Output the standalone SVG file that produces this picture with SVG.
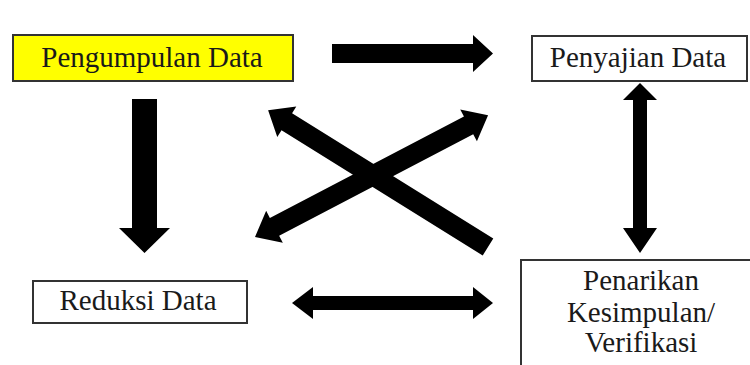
<svg xmlns="http://www.w3.org/2000/svg" width="750" height="365" viewBox="0 0 750 365">
<style>
.box{fill:#ffffff;stroke:#333333;stroke-width:2}
.hl{fill:#ffff00}
.arr{fill:#000000}
</style>
<rect width="750" height="365" fill="#ffffff"/>
<g id="pengumpulan">
<rect class="box hl" x="13" y="35" width="280" height="46"/>
<text x="152" y="67" font-family="'Times New Roman', 'Liberation Serif', serif" font-size="29" fill="#1a1a1a" text-anchor="middle">Pengumpulan Data</text>
</g>
<g id="penyajian">
<rect class="box" x="532" y="36" width="215" height="45"/>
<text x="638" y="67" font-family="'Times New Roman', 'Liberation Serif', serif" font-size="29" fill="#1a1a1a" text-anchor="middle">Penyajian Data</text>
</g>
<g id="reduksi">
<rect class="box" x="33" y="281" width="214" height="42"/>
<text x="138" y="310" font-family="'Times New Roman', 'Liberation Serif', serif" font-size="29" fill="#1a1a1a" text-anchor="middle">Reduksi Data</text>
</g>
<g id="penarikan">
<rect class="box" x="521" y="260" width="240" height="120"/>
<text x="641" y="290" font-family="'Times New Roman', 'Liberation Serif', serif" font-size="29" fill="#1a1a1a" text-anchor="middle">Penarikan</text>
<text x="641" y="322" font-family="'Times New Roman', 'Liberation Serif', serif" font-size="29" fill="#1a1a1a" text-anchor="middle">Kesimpulan/</text>
<text x="641" y="352" font-family="'Times New Roman', 'Liberation Serif', serif" font-size="29" fill="#1a1a1a" text-anchor="middle">Verifikasi</text>
</g>
<g id="connectors">
<polygon class="arr" points="332,44 473,44 473,35 493,53.5 473,72 473,63 332,63"/>
<polygon class="arr" points="132,99 157,99 157,228 170,228 144.5,253 119,228 132,228"/>
<polygon class="arr" points="640,83 657,100 647,100 647,228 657,228 640,253 623,228 633,228 633,100 623,100"/>
<polygon class="arr" points="292,303 313,287 313,296 473,296 473,287 493,303 473,319 473,310 313,310 313,319"/>
<polygon class="arr" transform="translate(488,247) rotate(211.9)" points="0,-10 237,-10 237,-18 259,0 237,18 237,10 0,10"/>
<polygon class="arr" transform="translate(255,237) rotate(-27.6)" points="0,0 22,-18 22,-10 241,-10 241,-18 263,0 241,18 241,10 22,10 22,18"/>
</g>
</svg>
